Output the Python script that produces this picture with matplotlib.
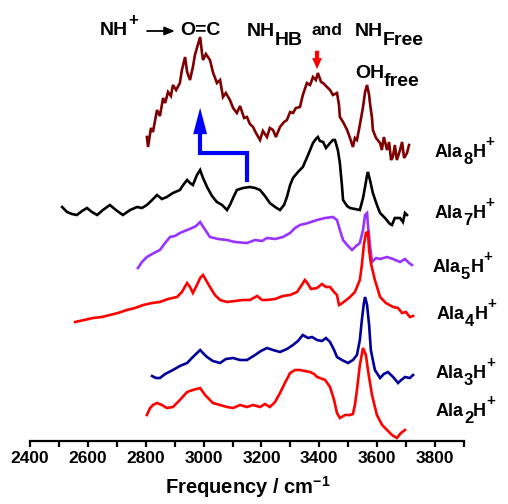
import matplotlib
matplotlib.use("Agg")
import matplotlib.pyplot as plt
from matplotlib.ticker import MultipleLocator

plt.rcParams["font.family"] = ["Liberation Sans", "DejaVu Sans"]
plt.rcParams["font.weight"] = "bold"
plt.rcParams["mathtext.fontset"] = "custom"
plt.rcParams["mathtext.rm"] = "Liberation Sans:bold"
plt.rcParams["mathtext.bf"] = "Liberation Sans:bold"
plt.rcParams["mathtext.default"] = "rm"

W, H = 508, 504

# IR spectra, stacked with vertical offsets (arb. units)
ala8_x = [2804, 2808, 2818, 2825, 2839, 2849, 2860, 2867, 2877, 2887, 2894, 2905, 2918, 2925, 2936,
          2943, 2953, 2963, 2970, 2977, 2988, 2994, 2998, 3008, 3022, 3032, 3046, 3057, 3067, 3077,
          3091, 3102, 3115, 3126, 3140, 3150, 3160, 3171, 3181, 3195, 3205, 3219, 3229, 3240, 3250,
          3264, 3278, 3288, 3299, 3309, 3319, 3333, 3343, 3357, 3368, 3378, 3388, 3395, 3406, 3413,
          3423, 3437, 3447, 3461, 3468, 3471, 3482, 3496, 3506, 3516, 3523, 3530, 3540, 3551, 3558,
          3565, 3572, 3575, 3582, 3585, 3596, 3610, 3616, 3623, 3634, 3641, 3648, 3654, 3661, 3668,
          3679, 3686, 3693, 3703, 3710]
ala8_y = [304, 294, 313, 309, 331, 325, 343, 338, 349, 345, 356, 351, 358, 371, 384,
          369, 361, 374, 386, 393, 404, 389, 381, 387, 381, 369, 358, 361, 344, 348,
          341, 333, 328, 335, 323, 324, 317, 314, 308, 301, 310, 304, 313, 311, 304,
          314, 319, 321, 329, 328, 333, 334, 346, 358, 356, 364, 361, 368, 359, 358,
          355, 351, 346, 348, 336, 324, 319, 311, 303, 294, 303, 301, 316, 334, 349,
          356, 346, 338, 323, 311, 303, 298, 291, 304, 291, 299, 281, 284, 296, 281,
          291, 299, 283, 288, 296]

ala7_x = [2511, 2528, 2545, 2562, 2580, 2597, 2614, 2632, 2652, 2676, 2697, 2721, 2746, 2770, 2787,
          2804, 2822, 2839, 2856, 2873, 2894, 2918, 2932, 2943, 2953, 2963, 2977, 2988, 2998, 3012,
          3029, 3046, 3064, 3081, 3091, 3105, 3115, 3136, 3160, 3178, 3195, 3212, 3229, 3247, 3264,
          3278, 3288, 3299, 3309, 3326, 3343, 3361, 3378, 3388, 3395, 3402, 3413, 3423, 3437, 3447,
          3454, 3464, 3471, 3478, 3482, 3496, 3506, 3523, 3540, 3551, 3558, 3565, 3568, 3575, 3585,
          3599, 3610, 3627, 3644, 3651, 3661, 3679, 3689, 3696, 3703]
ala7_y = [234, 229, 227, 226, 230, 233, 229, 226, 231, 236, 231, 226, 231, 234, 233,
          236, 241, 246, 242, 244, 248, 251, 257, 261, 258, 256, 266, 271, 263, 254,
          245, 239, 236, 231, 236, 245, 251, 253, 254, 253, 251, 245, 238, 234, 231,
          236, 244, 256, 263, 269, 274, 286, 298, 302, 304, 300, 299, 293, 298, 301,
          301, 291, 278, 256, 241, 235, 233, 232, 231, 243, 254, 266, 269, 261, 248,
          236, 228, 223, 217, 216, 223, 223, 219, 228, 226]

ala5_x = [2773, 2787, 2804, 2822, 2835, 2849, 2867, 2884, 2901, 2918, 2943, 2960, 2974, 2988, 3001,
          3022, 3050, 3081, 3108, 3150, 3178, 3202, 3219, 3247, 3274, 3299, 3316, 3333, 3361, 3392,
          3420, 3447, 3461, 3471, 3482, 3496, 3513, 3527, 3540, 3551, 3558, 3565, 3568, 3575, 3582,
          3596, 3610, 3634, 3655, 3679, 3696, 3710, 3720]
ala5_y = [173, 179, 184, 187, 189, 191, 198, 204, 205, 208, 211, 213, 215, 219, 213,
          204, 202, 201, 199, 198, 201, 200, 203, 202, 204, 208, 213, 216, 218, 221,
          223, 224, 221, 211, 201, 196, 191, 195, 198, 211, 226, 228, 216, 196, 179,
          183, 182, 184, 182, 179, 182, 178, 176]

ala4_x = [2556, 2587, 2618, 2649, 2676, 2704, 2735, 2763, 2791, 2822, 2849, 2877, 2908, 2925, 2943,
          2953, 2963, 2977, 2988, 2998, 3008, 3022, 3039, 3057, 3081, 3108, 3136, 3160, 3185, 3202,
          3219, 3247, 3274, 3299, 3323, 3337, 3350, 3361, 3371, 3392, 3409, 3423, 3437, 3451, 3461,
          3468, 3475, 3489, 3506, 3523, 3540, 3547, 3554, 3561, 3568, 3572, 3578, 3592, 3610, 3630,
          3655, 3672, 3686, 3699, 3713, 3724]
ala4_y = [119, 121, 123, 124, 126, 128, 131, 133, 136, 138, 139, 142, 144, 149, 158,
          154, 148, 156, 163, 166, 161, 154, 146, 141, 139, 140, 141, 141, 145, 141,
          141, 142, 145, 146, 149, 155, 161, 157, 152, 153, 157, 154, 154, 149, 146,
          136, 137, 140, 144, 149, 161, 176, 196, 208, 209, 191, 178, 161, 144, 138,
          134, 133, 128, 129, 124, 125]

ala3_x = [2822, 2835, 2849, 2867, 2894, 2918, 2943, 2963, 2988, 3001, 3012, 3032, 3057, 3077, 3102,
          3126, 3150, 3178, 3198, 3219, 3240, 3264, 3288, 3309, 3326, 3343, 3361, 3375, 3392, 3409,
          3423, 3437, 3451, 3461, 3478, 3499, 3516, 3530, 3540, 3547, 3554, 3558, 3565, 3572, 3578,
          3592, 3610, 3623, 3637, 3655, 3672, 3679, 3696, 3713, 3724]
ala3_y = [65, 63, 63, 67, 71, 75, 78, 84, 91, 87, 84, 80, 78, 82, 83,
          81, 81, 86, 90, 93, 91, 89, 92, 96, 100, 106, 103, 104, 101, 100,
          103, 99, 91, 84, 81, 78, 81, 86, 101, 121, 138, 144, 136, 116, 91,
          71, 63, 67, 69, 64, 58, 60, 64, 63, 66]

ala2_x = [2804, 2815, 2825, 2839, 2856, 2873, 2894, 2918, 2943, 2963, 2988, 3005, 3022, 3032, 3057,
          3081, 3102, 3126, 3150, 3171, 3195, 3212, 3229, 3247, 3264, 3281, 3299, 3316, 3333, 3350,
          3368, 3382, 3392, 3402, 3420, 3437, 3451, 3461, 3471, 3489, 3506, 3516, 3523, 3530, 3540,
          3551, 3561, 3568, 3582, 3599, 3617, 3634, 3651, 3668, 3682, 3696]
ala2_y = [26, 33, 36, 38, 36, 33, 34, 41, 49, 51, 53, 46, 41, 38, 36,
          34, 33, 36, 34, 36, 34, 37, 34, 39, 48, 58, 68, 71, 71, 70,
          69, 67, 64, 63, 61, 54, 41, 28, 23, 26, 26, 27, 36, 51, 76,
          93, 86, 71, 46, 26, 16, 11, 6, 3, 8, 11]

spectra = [
    (ala8_x, ala8_y, "#7f0000", "8"),
    (ala7_x, ala7_y, "#000000", "7"),
    (ala5_x, ala5_y, "#9933ff", "5"),
    (ala4_x, ala4_y, "#ff0000", "4"),
    (ala3_x, ala3_y, "#000099", "3"),
    (ala2_x, ala2_y, "#ff0000", "2"),
]
# label anchors (pixel x of "Ala", pixel baseline)
label_pos = {"8": (435, 157), "7": (435, 218), "5": (433, 272),
             "4": (437, 319), "3": (436, 378), "2": (436, 416)}

fig = plt.figure(figsize=(W / 100, H / 100), dpi=100)
ax = fig.add_axes([30 / W, 63 / H, 434 / W, 441 / H])
for xs, ys, col, n in spectra:
    ax.plot(xs, ys, color=col, lw=1.9, solid_joinstyle="miter")

ax.set_xlim(2400, 3900)
ax.set_ylim(0, 441)
for s in ("left", "right", "top"):
    ax.spines[s].set_visible(False)
ax.spines["bottom"].set_linewidth(1.6)
ax.set_yticks([])
ax.set_xticks(range(2400, 3801, 200))
ax.xaxis.set_minor_locator(MultipleLocator(100))
ax.tick_params(axis="x", which="both", length=4, width=1.6, pad=3, labelsize=12.5)
ax.set_xlabel(r"Frequency / cm$^{-1}$", fontsize=14.5, fontweight="bold")
ax.xaxis.set_label_coords((248 - 30) / 434, (441 - 474) / 441)

renderer = fig.canvas.get_renderer()


def put(x, y, parts, color="black"):
    """Write text pieces left to right starting at pixel (x, baseline y)."""
    for s, dy, size in parts:
        t = fig.text(x / W, 1 - (y + dy) / H, s, fontsize=size, fontweight="bold",
                     color=color, ha="left", va="baseline")
        x += t.get_window_extent(renderer).width


for xs, ys, col, n in spectra:
    lx, ly = label_pos[n]
    put(lx, ly, [("Ala", 0, 13), (n, 7, 12), ("H", 0, 13), ("+", -11, 11)])

# band assignments along the top
put(100, 35, [("NH", 0, 14), ("+", -10, 12)])
ax.annotate("", xy=(2910, 410), xytext=(2795, 410),
            arrowprops=dict(arrowstyle="-|>,head_width=0.25,head_length=0.6", color="black", lw=1.3))
put(180, 35, [("O=C", 0, 14)])
put(247, 36, [("NH", 0, 14), ("HB", 9, 14)])
put(312, 35, [("and", 0, 12.5)])
put(355, 36, [("NH", 0, 14), ("Free", 9, 14)])
put(355, 78, [("OH", 0, 14), ("free", 8, 14)])

# red marker above the NH band
ax.annotate("", xy=(3392, 369), xytext=(3392, 393),
            arrowprops=dict(arrowstyle="simple,head_width=0.7,head_length=0.8,tail_width=0.3",
                            color="#ff0000", lw=0))
# blue pointer from the Ala7 band to the NH+ -> O=C band
ax.plot([3150, 3150, 2988, 2988], [261, 288, 288, 312], color="#0000ff", lw=3,
        solid_joinstyle="miter")
ax.annotate("", xy=(2988, 336), xytext=(2988, 308),
            arrowprops=dict(arrowstyle="simple,head_width=1.0,head_length=1.9,tail_width=0.01",
                            color="#0000ff", lw=0))

fig.savefig("out.png", dpi=100)
